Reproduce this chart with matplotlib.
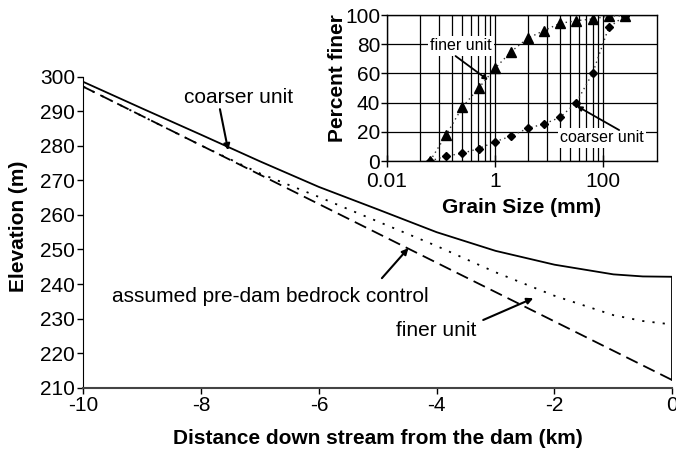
import numpy as np
import matplotlib.pyplot as plt

plt.rcParams['font.family'] = ['Liberation Sans', 'DejaVu Sans']
plt.rcParams['axes.unicode_minus'] = False

# Long profile (km downstream of dam, elevation m)
dist_km = [-10, -9, -8, -7, -6, -5, -4, -3, -2, -1, -0.5, 0]
coarser_elev = [298.5, 290.8, 283.2, 275.5, 268.1, 261.6, 255.0, 249.6, 245.6, 242.8, 242.2, 242.1]
finer_elev = [297.1, 288.6, 280.1, 272.0, 265.2, 258.1, 251.0, 243.4, 236.6, 231.0, 229.3, 228.3]
bedrock_x = [-10, 0]
bedrock_elev = [297.1, 212.2]

# Grain size distributions (mm, percent finer)
grain_mm = [0.0625, 0.125, 0.25, 0.5, 1, 2, 4, 8, 16, 32, 64, 128, 256]
finer_pct = [0, 18, 37, 50, 63.5, 75, 84, 89.3, 94.3, 96.1, 97.3, 99.3, 99.5]
coarser_pct = [0, 3.4, 5.3, 8.5, 13.2, 17.1, 22.4, 25.3, 29.9, 40.0, 60.0, 91.6, 99.5]

fig = plt.figure(figsize=(6.76, 4.5), dpi=100)

# ---- main profile ----
ax = fig.add_axes([0.1232, 0.1384, 0.8713, 0.6912])
ax.plot(dist_km, coarser_elev, color='k', lw=1.3)
ax.plot([dist_km[-1], dist_km[-1]], [coarser_elev[-1], bedrock_elev[-1]], color='k', lw=1.3)
ax.plot(dist_km, finer_elev, color='k', lw=1.3, linestyle=(0, (1.2, 4.5)))
ax.plot(bedrock_x, bedrock_elev, color='k', lw=1.3, linestyle=(0, (7, 3.5)))

ax.set_xlim(-10, 0)
ax.set_ylim(210, 300)
ax.set_xticks(range(-10, 1, 2))
ax.set_yticks(range(210, 301, 10))
ax.spines['top'].set_visible(False)
ax.spines['right'].set_visible(False)
ax.spines['bottom'].set_color('#444444')
ax.spines['bottom'].set_linewidth(1.5)
ax.tick_params(labelsize=15, length=4, width=1, pad=2)
ax.set_xlabel('Distance down stream from the dam (km)', fontsize=15, fontweight='bold', labelpad=10)
ax.set_ylabel('Elevation (m)', fontsize=15, fontweight='bold')
ax.yaxis.set_label_coords(-0.094, 0.52)

arrow = dict(arrowstyle='-|>', color='k', lw=1.5, mutation_scale=9, shrinkA=0, shrinkB=0)
ax.text(-7.36, 294.0, 'coarser unit', fontsize=15, ha='center', va='center')
ax.annotate('', xy=(-7.54, 278.7), xytext=(-7.68, 290.6), arrowprops=arrow)
ax.text(-6.82, 236.5, 'assumed pre-dam bedrock control', fontsize=15, ha='center', va='center')
ax.annotate('', xy=(-4.48, 250.4), xytext=(-4.93, 241.7), arrowprops=arrow)
ax.text(-4.01, 226.7, 'finer unit', fontsize=15, ha='center', va='center')
ax.annotate('', xy=(-2.36, 235.9), xytext=(-3.21, 229.6), arrowprops=arrow)

# ---- grain size inset ----
ins = fig.add_axes([0.5725, 0.6422, 0.3994, 0.3244])
ins.set_xscale('log')
ins.set_xlim(0.01, 1000)
ins.set_ylim(0, 100)
minor = [b * k ** 2 for b in (0.01, 1) for k in range(2, 10)]
ins.set_xticks([0.01, 1, 100])
ins.set_xticklabels(['0.01', '1', '100'])
ins.set_xticks(minor, minor=True)
ins.set_yticks(range(0, 101, 20))
ins.tick_params(axis='x', which='minor', length=0)
ins.tick_params(axis='x', which='major', direction='inout', length=8, width=1, pad=4)
ins.tick_params(axis='y', length=4, width=1, pad=1)
ins.tick_params(labelsize=15)
ins.grid(True, which='both', color='k', lw=0.9)
ins.set_axisbelow(True)
for s in ins.spines.values():
    s.set_linewidth(1)

ins.plot(grain_mm, finer_pct, color='#333333', lw=1, linestyle=(0, (1, 2.5)),
         marker='^', ms=6.5, mfc='k', mec='k', zorder=3)
ins.plot(grain_mm, coarser_pct, color='#333333', lw=1, linestyle=(0, (1, 2.5)),
         marker='D', ms=4.5, mfc='k', mec='k', zorder=3)
ins.set_xlabel('Grain Size (mm)', fontsize=15, fontweight='bold', labelpad=5)
ins.set_ylabel('Percent finer', fontsize=15, fontweight='bold')
ins.yaxis.set_label_coords(-0.148, 0.57)

box = dict(facecolor='white', edgecolor='none', pad=1.5)
arrow2 = dict(arrowstyle='-|>', color='k', lw=1.3, mutation_scale=7, shrinkA=0, shrinkB=0)
ins.text(0.231, 78.8, 'finer unit', fontsize=11.5, ha='center', va='center', bbox=box, zorder=4)
ins.annotate('', xy=(0.74, 55.5), xytext=(0.186, 71.9), arrowprops=arrow2, zorder=4)
ins.text(97, 15.8, 'coarser unit', fontsize=11.5, ha='center', va='center', bbox=box, zorder=4)
ins.annotate('', xy=(33, 37.6), xytext=(199, 21.2), arrowprops=arrow2, zorder=4)

fig.savefig('out.png', dpi=100)
